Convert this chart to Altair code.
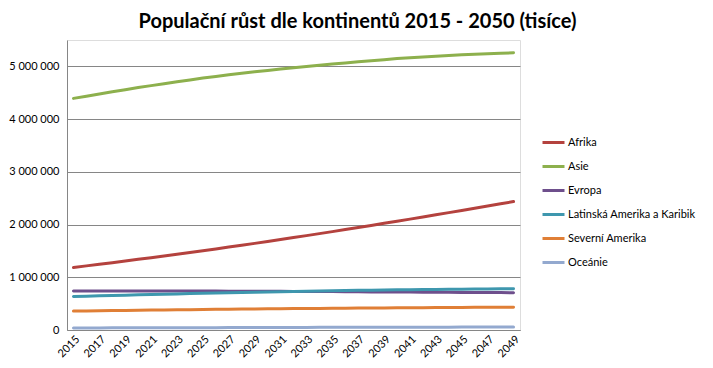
import altair as alt
import pandas as pd

years = list(range(2015, 2050))
series_names = ["Afrika", "Asie", "Evropa", "Latinská Amerika a Karibik", "Severní Amerika", "Oceánie"]
colors = ["#B4423E", "#8DB04D", "#6E4F8C", "#3E97AE", "#E07F36", "#93A9CF"]

afrika = [1186, 1216, 1246, 1277, 1308, 1340, 1372, 1404, 1437, 1470, 1504, 1538, 1573, 1608, 1643,
          1679, 1716, 1753, 1790, 1828, 1866, 1905, 1944, 1983, 2023, 2063, 2103, 2144, 2185, 2226,
          2268, 2310, 2352, 2394, 2436]
asie = [4393, 4435, 4476, 4517, 4558, 4598, 4635, 4672, 4708, 4743, 4778, 4809, 4839, 4868, 4896,
        4923, 4948, 4973, 4997, 5021, 5044, 5065, 5086, 5106, 5127, 5147, 5163, 5178, 5192, 5205,
        5218, 5229, 5239, 5249, 5258]
evropa = [738, 739, 739, 740, 740, 740, 740, 740, 740, 739, 739, 738, 737, 736, 735,
          734, 733, 732, 731, 729, 728, 726, 725, 723, 722, 720, 719, 717, 716, 714,
          713, 712, 710, 709, 708]
latam = [634, 641, 648, 654, 661, 667, 673, 679, 685, 691, 697, 702, 707, 712, 717,
         722, 727, 731, 736, 740, 744, 748, 752, 755, 759, 762, 765, 768, 770, 773,
         775, 777, 779, 781, 783]
sev_amerika = [358, 361, 365, 368, 371, 374, 377, 380, 383, 386, 389, 392, 394, 397, 399,
               402, 404, 406, 408, 410, 412, 414, 416, 418, 419, 421, 423, 424, 426, 427,
               428, 430, 431, 432, 433]
oceanie = [39, 40, 40, 41, 41, 42, 43, 43, 44, 44, 45, 45, 46, 46, 47,
           48, 48, 49, 49, 50, 50, 51, 51, 52, 52, 53, 53, 53, 54, 54,
           55, 55, 56, 56, 56]

all_series = [afrika, asie, evropa, latam, sev_amerika, oceanie]

rows = []
for name, vals in zip(series_names, all_series):
    for y, v in zip(years, vals):
        rows.append({"rok": str(y), "kontinent": name, "pocet": v * 1000})
df = pd.DataFrame(rows)

year_labels = [str(y) for y in years[::2]]
FONT = "Lato"

chart = alt.Chart(df).mark_line(strokeWidth=3, strokeCap="round", strokeJoin="round").encode(
    x=alt.X("rok:O", sort=[str(y) for y in years],
            scale=alt.Scale(type="point", padding=0.5),
            axis=alt.Axis(title=None, values=year_labels, labelAngle=-45, labelAlign="right",
                          labelBaseline="top", labelPadding=3, labelFontSize=11,
                          labelColor="#000000", labelFont=FONT, ticks=False,
                          domainColor="#868686", grid=False)),
    y=alt.Y("pocet:Q", scale=alt.Scale(domain=[0, 5500000], nice=False),
            axis=alt.Axis(title=None, values=[0, 1000000, 2000000, 3000000, 4000000, 5000000],
                          labelExpr="replace(format(datum.value, ','), regexp(',', 'g'), ' ')",
                          labelFontSize=11, labelColor="#000000", labelFont=FONT,
                          labelPadding=8, ticks=False, domainColor="#868686",
                          gridColor="#868686", gridWidth=1)),
    color=alt.Color("kontinent:N", sort=series_names,
                    scale=alt.Scale(domain=series_names, range=colors),
                    legend=alt.Legend(title=None, orient="none", legendX=474, legendY=90,
                                      symbolType="stroke", symbolStrokeWidth=3, symbolSize=484,
                                      labelFontSize=11, labelFont=FONT, labelColor="#000000",
                                      rowPadding=5, labelOffset=2)),
).properties(
    width=453, height=290,
    title=alt.Title("Populační růst dle kontinentů 2015 - 2050 (tisíce)", fontSize=20,
                    font=FONT, fontWeight="bold", color="#000000", anchor="middle",
                    dx=64, offset=8),
    autosize=alt.AutoSizeParams(type="none"),
    padding={"left": 59, "top": 32, "right": 185, "bottom": 30},
).configure_view(stroke=None).configure(background="#ffffff")

chart.save("out.html", embed_options={"renderer": "svg", "actions": False})
